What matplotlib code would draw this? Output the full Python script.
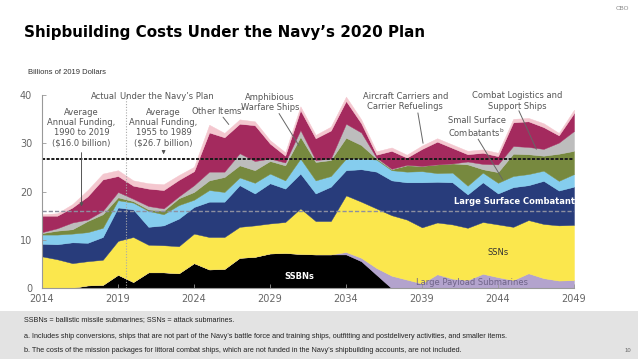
import numpy as np
import matplotlib
matplotlib.use('Agg')
from matplotlib import pyplot as plt
from matplotlib.patches import Rectangle

years = list(range(2014, 2050))

# billions of 2019 dollars (layer heights, bottom to top)
ssbn = [0, 0, 0.1, 0.6, 0.7, 2.8, 1.3, 3.3, 3.3, 3.1, 5.2, 3.9, 4.0, 6.3, 6.5, 7.2, 7.3, 7.1,
        7.0, 7.0, 7.0, 5.6, 2.8, 0, 0, 0, 0, 0, 0, 0, 0, 0, 0, 0, 0, 0]
large_payload = [0, 0, 0, 0, 0, 0, 0, 0, 0, 0, 0, 0, 0, 0, 0, 0, 0, 0,
                 0, 0, 0.5, 0.7, 1.4, 2.6, 1.8, 1.0, 2.9, 2.0, 1.7, 3.0, 2.3, 1.7, 3.1, 2.1, 1.6, 1.7]
ssn = [6.6, 6.0, 5.1, 5.0, 5.2, 7.0, 9.3, 5.7, 5.6, 5.6, 6.1, 6.7, 6.6, 6.4, 6.5, 6.2, 6.4, 9.4,
       6.9, 6.9, 11.7, 11.6, 12.3, 12.5, 12.4, 11.6, 10.7, 11.2, 10.8, 10.7, 10.9, 11.0, 11.0, 11.2, 11.4, 11.4]
large_surface = [2.6, 3.1, 4.3, 3.8, 4.7, 6.9, 5.7, 3.7, 4.1, 5.7, 5.5, 7.3, 7.3, 8.6, 6.6, 8.3, 6.9, 7.2,
                 5.7, 7.1, 5.2, 6.7, 7.6, 7.2, 7.7, 9.3, 8.4, 8.7, 6.9, 8.2, 6.4, 8.2, 7.2, 8.9, 7.2, 7.9]
small_surface = [1.9, 2.0, 1.8, 2.2, 1.9, 1.5, 1.4, 3.3, 2.3, 2.8, 1.5, 2.4, 2.0, 1.6, 2.2, 2.0, 1.7, 3.1,
                 2.7, 2.2, 2.4, 2.2, 2.5, 2.1, 2.2, 2.3, 1.8, 2.0, 1.8, 2.0, 2.2, 2.3, 2.3, 2.1, 2.0, 2.6]
amphibious = [0.3, 0.8, 0.9, 2.3, 2.8, 0.6, 0.3, 0.3, 0.7, 1.4, 1.6, 2.0, 3.1, 2.5, 2.6, 2.6, 3.1, 4.5,
              3.8, 3.3, 4.3, 2.8, 0.2, 0.2, 1.3, 1.1, 1.8, 1.9, 4.4, 0.7, 2.2, 4.6, 4.1, 3.1, 5.6, 4.8]
logistics = [0.2, 0.5, 1.4, 0.3, 0.7, 1.1, 0.5, 0.7, 0.5, 0.4, 1.4, 1.8, 1.1, 2.5, 1.9, 0.5, 0.6, 1.4,
             0.4, 0.3, 2.9, 2.6, 0.2, 0.1, 0.1, 0, 0, 0, 0.6, 1.1, 1.6, 1.6, 1.5, 1.4, 2.3, 4.1]
carriers = [3.4, 2.6, 3.1, 4.8, 6.5, 3.3, 2.7, 3.6, 3.8, 3.4, 2.9, 8.1, 7.1, 6.1, 7.4, 3.1, 1.4, 4.1,
            4.5, 5.8, 4.7, 1.9, 0.6, 3.7, 1.5, 3.5, 4.7, 3.2, 1.5, 2.3, 1.7, 4.9, 5.3, 4.5, 1.5, 3.7]
other = [0.3, 0.5, 0.7, 1.3, 1.2, 1.2, 1.1, 1.1, 1.2, 1.0, 0.9, 1.6, 0.9, 0.9, 0.8, 0.7, 0.7, 0.8,
         0.7, 0.8, 0.9, 0.8, 0.7, 0.7, 0.6, 0.7, 0.7, 0.7, 0.7, 0.7, 0.7, 0.7, 0.7, 0.8, 0.5, 0.7]

avg_1990_2019 = 16.0
avg_1955_1989 = 26.7
plan_start = 2019.5

layers = [ssbn, large_payload, ssn, large_surface, small_surface, amphibious, logistics, carriers, other]
colors = ['#000000', '#b3a3cd', '#fbe74d', '#283c7b', '#85cdee', '#77893f', '#bdbdbd', '#a42a5e', '#f4c7cf']

W, H = 638, 359
fig = plt.figure(figsize=(W / 100, H / 100), dpi=100)


def fx(x):
    return x / W


def fy(y):
    return 1 - y / H


narrow = ['Liberation Sans Narrow', 'DejaVu Sans']
sans = ['Liberation Sans', 'DejaVu Sans']

# header
fig.text(fx(24), fy(33), "Shipbuilding Costs Under the Navy\u2019s 2020 Plan", fontsize=10.9,
         weight='heavy', family='DejaVu Sans', va='center', ha='left', color='#000000')
fig.text(fx(629), fy(8), 'CBO', fontsize=4.5, color='#888888', ha='right', va='center', family=sans)
fig.text(fx(28), fy(72), 'Billions of 2019 Dollars', fontsize=5.5, color='#333333', va='center', family=sans)

# footer band
fig.patches.append(Rectangle((0, 0), 1, (H - 311) / H, transform=fig.transFigure,
                             facecolor='#e3e3e3', edgecolor='none', zorder=0))
notes = ["SSBNs = ballistic missile submarines; SSNs = attack submarines.",
         "a. Includes ship conversions, ships that are not part of the Navy\u2019s battle force and training ships, "
         "outfitting and postdelivery activities, and smaller items.",
         "b. The costs of the mission packages for littoral combat ships, which are not funded in the Navy\u2019s "
         "shipbuilding accounts, are not included."]
for note, y in zip(notes, [320, 336, 351]):
    fig.text(fx(24), fy(y), note, fontsize=5.25, color='#222222', va='center', family=sans)
fig.text(fx(631), fy(351), '10', fontsize=4.2, color='#666666', ha='right', va='center', family=sans)

# chart
ax = fig.add_axes([fx(42), fy(288.3), fx(574) - fx(42), fy(94.7) - fy(288.3)])
ax.stackplot(years, layers, colors=colors, linewidth=0.3, edgecolor='face')
ax.axhline(avg_1990_2019, color='#8d8fa0', ls=(0, (3, 1.5)), lw=1.0)
ax.axhline(avg_1955_1989, color='#1a1a1a', ls=(0, (1.6, 0.8)), lw=1.4)
ax.axvline(plan_start, color='#aaaaaa', ls=(0, (1, 1.5)), lw=0.8)

ax.set_xlim(2014, 2049)
ax.set_ylim(0, 40)
ax.set_xticks(range(2014, 2050, 5))
ax.set_yticks(range(0, 41, 10))
for s in ['top', 'right']:
    ax.spines[s].set_visible(False)
for s in ['left', 'bottom']:
    ax.spines[s].set_color('#999999')
    ax.spines[s].set_linewidth(0.8)
ax.tick_params(axis='both', direction='in', length=3, width=0.6, color='#999999',
               labelcolor='#666666', labelsize=7)
ax.tick_params(axis='y', pad=7)
ax.tick_params(axis='x', pad=4)
for lab in ax.get_xticklabels() + ax.get_yticklabels():
    lab.set_family(narrow)

ann = dict(fontsize=6, color='#555555', family=narrow, ha='center', va='center', linespacing=1.15)
arrow = dict(arrowstyle='-', color='#666666', lw=0.7)
ax.text(2018.1, 39.7, 'Actual', **ann)
ax.text(2022.2, 39.7, 'Under the Navy\u2019s Plan', **ann)
ax.text(2016.6, 33.2, 'Average\nAnnual Funding,\n1990 to 2019\n($16.0 billion)', **ann)
ax.annotate('', xy=(2016.6, 16.3), xytext=(2016.6, 28.6),
            arrowprops=dict(arrowstyle='-|>', color='#555555', lw=0.7, mutation_scale=5))
ax.text(2022.0, 33.2, 'Average\nAnnual Funding,\n1955 to 1989\n($26.7 billion)', **ann)
ax.annotate('', xy=(2022.0, 27.1), xytext=(2022.0, 28.8),
            arrowprops=dict(arrowstyle='-|>', color='#555555', lw=0.7, mutation_scale=5))
ax.text(2025.6, 36.7, 'Other Items$^{\\mathrm{a}}$', **ann)
ax.annotate('', xy=(2026.4, 33.4), xytext=(2025.8, 35.8), arrowprops=arrow)
ax.text(2029.0, 38.3, 'Amphibious\nWarfare Ships', **ann)
ax.annotate('', xy=(2031.0, 29.0), xytext=(2029.5, 36.6), arrowprops=arrow)
ax.text(2037.9, 38.6, 'Aircraft Carriers and\nCarrier Refuelings', **ann)
ax.annotate('', xy=(2039.1, 29.4), xytext=(2038.7, 36.8), arrowprops=arrow)
ax.text(2045.25, 38.7, 'Combat Logistics and\nSupport Ships', **ann)
ax.annotate('', xy=(2046.6, 28.2), xytext=(2045.3, 37.2), arrowprops=arrow)
ax.text(2040.7, 33.2, 'Small Surface\nCombatants$^{\\mathrm{b}}$', **dict(ann, ha='left', multialignment='left'))
ax.annotate('', xy=(2044.4, 22.0), xytext=(2042.6, 31.3), arrowprops=arrow)
ax.text(2045.25, 17.9, 'Large Surface Combatants', **dict(ann, color='white', weight='bold'))
ax.text(2044.0, 7.4, 'SSNs', **dict(ann, color='#333333'))
ax.text(2030.9, 2.4, 'SSBNs', **dict(ann, color='white', weight='bold'))
ax.text(2042.3, 1.2, 'Large Payload Submarines', **dict(ann, color='#6f6488'))

fig.savefig('out.png', dpi=100)
